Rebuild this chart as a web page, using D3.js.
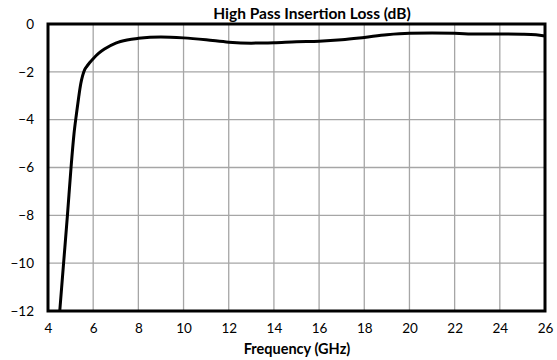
<!DOCTYPE html>
<html>
<head>
<meta charset="utf-8">
<script src="https://cdn.jsdelivr.net/npm/d3@7"></script>
<style>
  body { margin: 0; background: #fff; }
  text { font-family: Lato, "Open Sans", sans-serif; }
</style>
</head>
<body>
<div class="canvas"></div>
<script>
// frequency points (GHz)
const freq = [4.52, 4.69, 4.86, 5.02, 5.15, 5.26, 5.36, 5.45, 5.53, 5.62, 5.72, 5.84, 6.0, 6.25, 6.5, 7, 7.5, 8, 9, 10,
  11, 12, 13, 14, 15, 16, 17, 18, 19, 20, 21, 22, 23, 24, 25, 25.6, 26];
// insertion loss (dB)
const loss = [-12, -10, -8, -6, -4.6, -3.75, -3.05, -2.5, -2.17, -1.92, -1.77, -1.62, -1.45, -1.22, -1.05, -0.8, -0.67, -0.6, -0.54, -0.58,
  -0.66, -0.76, -0.8, -0.78, -0.74, -0.72, -0.66, -0.56, -0.45, -0.39, -0.38, -0.39, -0.42, -0.42, -0.43, -0.45, -0.5];

const xTicks = [4, 6, 8, 10, 12, 14, 16, 18, 20, 22, 24, 26];
const yTicks = [0, -2, -4, -6, -8, -10, -12];

const W = 557, H = 360;
const m = { top: 24, right: 12, bottom: 49, left: 48 };
const w = W - m.left - m.right;
const h = H - m.top - m.bottom;

const svg = d3.select('.canvas')
  .append('svg')
  .attr('width', W)
  .attr('height', H);

const g = svg.append('g')
  .attr('transform', `translate(${m.left}, ${m.top})`);

const x = d3.scaleLinear().domain([4, 26]).range([0, w]);
const y = d3.scaleLinear().domain([-12, 0]).range([h, 0]);

// grid lines
g.selectAll('.vgrid')
  .data(xTicks)
  .enter()
  .append('line')
  .attr('x1', d => x(d)).attr('x2', d => x(d))
  .attr('y1', 0).attr('y2', h)
  .attr('stroke', '#a6a6a6')
  .attr('stroke-width', 1.3);

g.selectAll('.hgrid')
  .data(yTicks)
  .enter()
  .append('line')
  .attr('x1', 0).attr('x2', w)
  .attr('y1', d => y(d)).attr('y2', d => y(d))
  .attr('stroke', '#a6a6a6')
  .attr('stroke-width', 1.3);

// axes, just the labels
const xAxis = g.append('g')
  .attr('transform', `translate(0, ${h})`)
  .call(d3.axisBottom(x).tickValues(xTicks).tickSize(0).tickPadding(12));
const yAxis = g.append('g')
  .call(d3.axisLeft(y).tickValues(yTicks).tickSize(0).tickPadding(14));

[xAxis, yAxis].forEach(a => {
  a.select('.domain').remove();
  a.selectAll('text')
    .attr('font-family', 'Lato, sans-serif')
    .attr('font-size', 13.5)
    .attr('fill', '#000');
});

// the data line
const line = d3.line()
  .x(d => x(d[0]))
  .y(d => y(d[1]))
  .curve(d3.curveMonotoneX);

g.append('path')
  .datum(freq.map((f, i) => [f, loss[i]]))
  .attr('d', line)
  .attr('fill', 'none')
  .attr('stroke', '#000')
  .attr('stroke-width', 3);

// plot frame
g.append('rect')
  .attr('width', w)
  .attr('height', h)
  .attr('fill', 'none')
  .attr('stroke', '#000')
  .attr('stroke-width', 3);

// titles
svg.append('text')
  .attr('x', 312)
  .attr('y', 19)
  .attr('text-anchor', 'middle')
  .attr('font-size', 15.5)
  .attr('font-weight', 'bold')
  .text('High Pass Insertion Loss (dB)');

svg.append('text')
  .attr('x', 297)
  .attr('y', 354)
  .attr('text-anchor', 'middle')
  .attr('font-size', 14.5)
  .attr('font-weight', 'bold')
  .text('Frequency (GHz)');
</script>
</body>
</html>
